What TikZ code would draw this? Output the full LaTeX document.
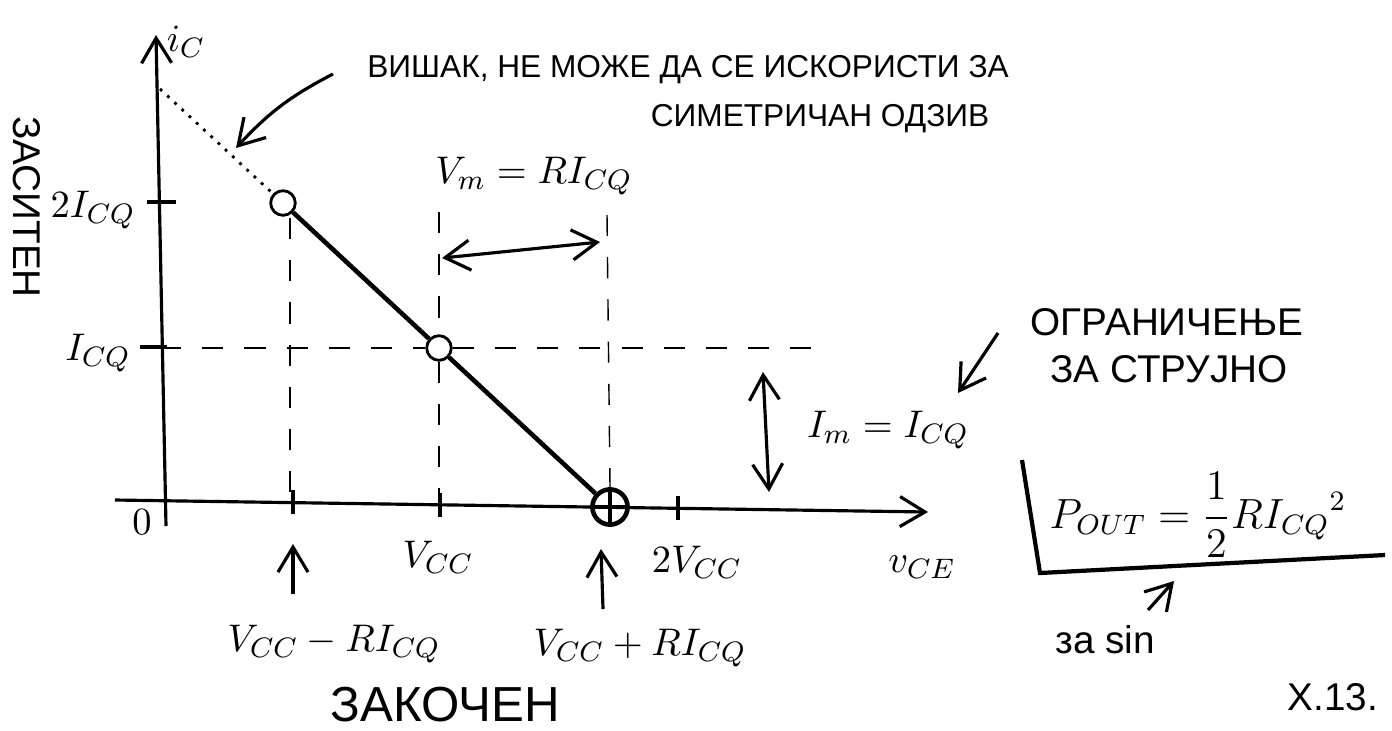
\documentclass[tikz,border=0pt]{standalone}
\usepackage{amsmath}
\usepackage{fontspec}
\setmainfont{Liberation Sans}
\usepackage{tikz}
\usetikzlibrary{positioning, arrows.meta, calc}

\begin{document}
\begin{tikzpicture}[x=0.01cm,y=-0.01cm,font=\fontsize{11}{13}\selectfont,line width=0.9pt,
  >={Straight Barb[length=2.5mm,width=3mm]},
  lbl/.style={inner sep=1pt},
  note/.style={inner sep=1pt,font=\fontsize{11}{14}\selectfont},
  topnote/.style={inner sep=1pt,font=\fontsize{9}{12}\selectfont},
  dsh/.style={dash pattern=on 6pt off 6pt,line width=0.4pt},
  pt/.style={circle,draw,minimum size=7pt,inner sep=0pt,line width=0.8pt}]
  \useasboundingbox (0,0) rectangle (1392,730);
  % axes
  \coordinate (ybot) at (166,526);
  \coordinate (ytop) at (156,35);
  \coordinate (xl) at (115,500);
  \coordinate (xr) at (928,512);
  \draw[->] (ybot) -- (ytop);
  \draw[->] (xl) -- (xr);
  \node[lbl] (ic) at (186,42) {$i_C$};
  \node[lbl] (l0) at (142,522) {$0$};
  % ticks
  \draw (147,202) -- (176,202);
  \draw (140,347) -- (167,347);
  \foreach \tx/\ty in {293/502,440/505,678/508} \draw (\tx,\ty-12) -- (\tx,\ty+12);
  \node[lbl] (l2i) at (93,210) {$2I_{CQ}$};
  \node[lbl] (li) at (98,353) {$I_{CQ}$};
  \node[lbl] (lvcc) at (438,557) {$V_{CC}$};
  \node[lbl] (l2vcc) at (697,562) {$2V_{CC}$};
  \node[lbl] (lvce) at (922,567) {$v_{CE}$};
  % load line
  \coordinate (yc) at (160,89);
  \node[pt] (q2) at (283,203) {};
  \node[pt] (q) at (439,348) {};
  \node[pt,minimum size=10pt,line width=1.3pt] (q0) at (610,507) {};
  \draw (q0.north) -- (q0.south) (q0.west) -- (q0.east);
  \draw[dotted,line width=0.8pt] (yc) -- (q2);
  \draw[line width=1.3pt] (q2) -- (q) -- (q0);
  % dashed guides
  \draw[dsh] (290,218) -- (290,502);
  \draw[dsh] (439,212) -- (q.north) (q.south) -- (439,505);
  \draw[dsh] (607,215) -- (q0.north);
  \draw[dsh] (160,348) -- (q.west) (q.east) -- (832,348);
  % swings
  \node[lbl] (vm) at (534,176) {$V_m=RI_{CQ}$};
  \coordinate (vma) at (442,258);
  \coordinate (vmb) at (600,242);
  \draw[<->] (vma) -- (vmb);
  \node[lbl] (im) at (888,430) {$I_m=I_{CQ}$};
  \coordinate (ima) at (763,372);
  \coordinate (imb) at (769,492);
  \draw[<->] (ima) -- (imb);
  % bottom labels
  \coordinate (am1) at (293,594);
  \coordinate (am2) at (293,544);
  \coordinate (ap1) at (603,609);
  \coordinate (ap2) at (601,549);
  \draw[->] (am1) -- (am2);
  \draw[->] (ap1) -- (ap2);
  \node[lbl] (lm) at (334,644) {$V_{CC}-RI_{CQ}$};
  \node[lbl] (lp) at (640,648) {$V_{CC}+RI_{CQ}$};
  \node[note,font=\fontsize{14}{17}\selectfont] (zak) at (445,705) {ЗАКОЧЕН};
  \node[note,rotate=-90] (zas) at (27,207) {ЗАСИТЕН};
  % notes
  \node[topnote] (top1) at (688,70) {ВИШАК, НЕ МОЖЕ ДА СЕ ИСКОРИСТИ ЗА};
  \node[topnote] (top2) at (820,119) {СИМЕТРИЧАН ОДЗИВ};
  \coordinate (ta1) at (333,74);
  \coordinate (ta2) at (236,148);
  \draw[->] (ta1) to[bend right=10] (ta2);
  \node[note] (og1) at (1167,322) {ОГРАНИЧЕЊЕ};
  \node[note] (og2) at (1169,369) {ЗА СТРУЈНО};
  \coordinate (oa1) at (998,333);
  \coordinate (oa2) at (958,393);
  \draw[->] (oa1) -- (oa2);
  % output power
  \coordinate (b1) at (1022,460);
  \coordinate (b2) at (1040,573);
  \coordinate (b3) at (1385,555);
  \draw[line width=1.2pt] (b1) -- (b2) -- (b3);
  \node[lbl,font=\large] (pout) at (1198,515) {$P_{OUT}=\dfrac{1}{2}R{I_{CQ}}^{2}$};
  \coordinate (sa1) at (1148,610);
  \coordinate (sa2) at (1174,581);
  \draw[->] (sa1) -- (sa2);
  \node[note] (sin) at (1105,640) {за sin};
  \node[note] (fig) at (1333,697) {X.13.};
\end{tikzpicture}
\end{document}
